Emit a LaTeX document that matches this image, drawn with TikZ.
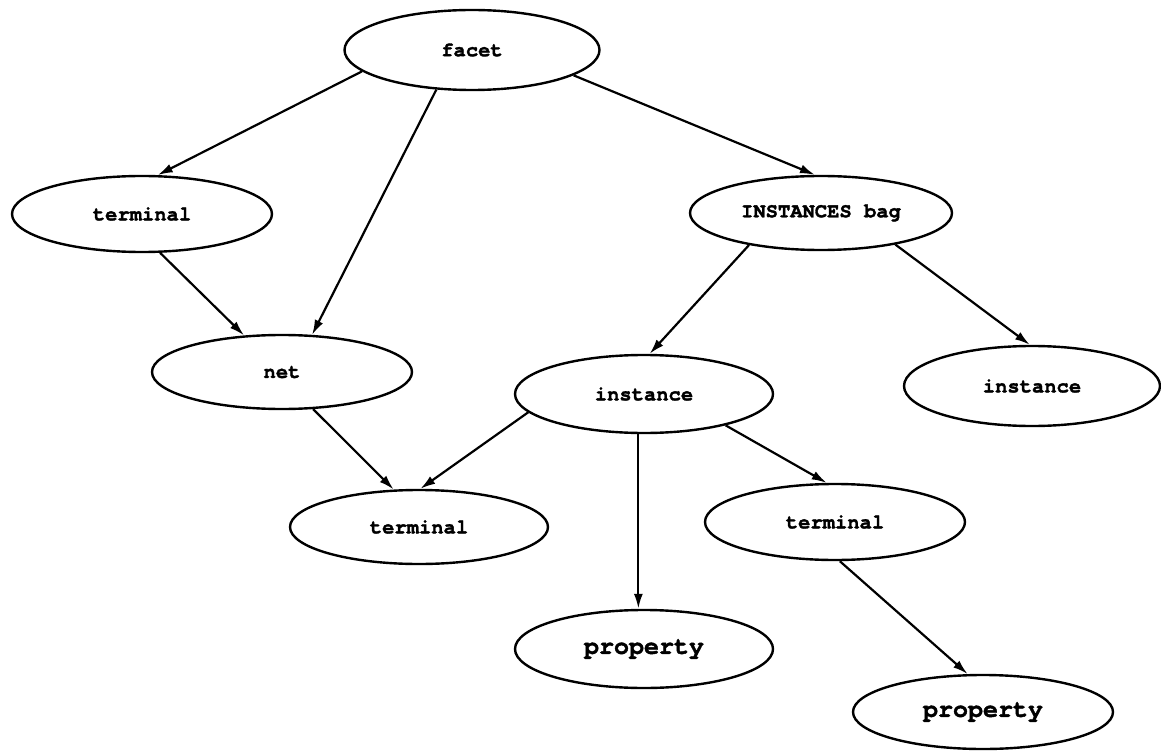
\documentclass[tikz,border=0pt]{standalone}
\usepackage{fontspec}
\setmonofont{TeX Gyre Cursor}[BoldFeatures={FakeBold=1.6}]
\usetikzlibrary{shapes.geometric,arrows.meta}
\begin{document}
\begin{tikzpicture}[x=1pt,y=-1pt,
  obj/.style={ellipse,draw,line width=2.4pt,inner sep=0pt,
    minimum width=258pt,minimum height=76pt,
    font=\ttfamily\bfseries\fontsize{20.5}{22}\selectfont},
  propobj/.style={obj,font=\ttfamily\bfseries\fontsize{25}{27}\selectfont},
  link/.style={line width=2.2pt,-{Latex[length=15pt,width=9pt]}}]
\useasboundingbox[fill=white] (0,0) rectangle (1161,751);

% objects of the facet tree
\node[obj,minimum width=255pt,minimum height=80pt] (facet) at (472,50) {facet};
\node[obj,minimum width=260pt] (termL) at (142,214) {terminal};
\node[obj,minimum width=262pt,minimum height=74pt] (bag) at (821,213) {INSTANCES bag};
\node[obj,minimum width=260pt,minimum height=74pt] (net) at (282,372) {net};
\node[obj,minimum height=78pt] (instM) at (644,394) {instance};
\node[obj,minimum width=256pt,minimum height=80pt] (instR) at (1032,386) {instance};
\node[obj,minimum height=74pt] (termB) at (419,527) {terminal};
\node[obj,minimum width=260pt] (termR) at (835,522) {terminal};
\node[propobj,minimum height=78pt] (propM) at (644,649) {property};
\node[propobj,minimum width=260pt,minimum height=74pt] (propR) at (983,712) {property};

% containment links
\draw[link] (facet.191) -- (termL.68);
\draw[link] (facet.228) -- (net.51);
\draw[link] (facet.346) -- (bag.99);
\draw[link] (termL.295) -- (net.136);
\draw[link] (bag.204) -- (instM.82);
\draw[link] (bag.337) -- (instR.93);
\draw[link] (net.310) -- (termB.124);
\draw[link] (instM.189) -- (termB.88);
\draw[link] (instM.262) -- (instM.262 |- propM.north);
\draw[link] (instM.339) -- (termR.102);
\draw[link] (termR.277) -- (propR.112);
\end{tikzpicture}
\end{document}
